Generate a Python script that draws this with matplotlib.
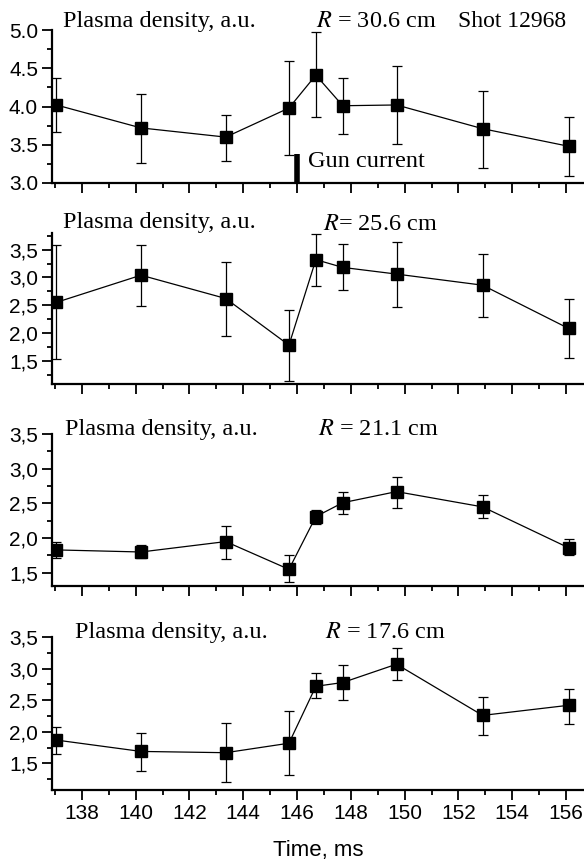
import matplotlib
matplotlib.use('Agg')
import matplotlib.pyplot as plt
from matplotlib.ticker import MultipleLocator, FuncFormatter

plt.rcParams['font.family'] = 'Liberation Sans'
plt.rcParams['mathtext.fontset'] = 'stix'

# time of each measurement, ms
t = [137.05, 140.2, 143.35, 145.7, 146.7, 147.7, 149.7, 152.9, 156.1]

# panel 1, R = 30.6 cm
y1 = [4.02, 3.72, 3.60, 3.98, 4.41, 4.01, 4.02, 3.71, 3.48]
top1 = [4.37, 4.16, 3.89, 4.60, 4.97, 4.37, 4.53, 4.20, 3.86]
bot1 = [3.67, 3.26, 3.29, 3.37, 3.86, 3.64, 3.51, 3.20, 3.09]
# panel 2, R = 25.6 cm
y2 = [2.55, 3.04, 2.62, 1.78, 3.32, 3.18, 3.06, 2.86, 2.08]
top2 = [3.59, 3.59, 3.27, 2.41, 3.78, 3.61, 3.64, 3.43, 2.61]
bot2 = [1.53, 2.49, 1.94, 1.14, 2.85, 2.77, 2.46, 2.28, 1.54]
# panel 3, R = 21.1 cm
y3 = [1.83, 1.80, 1.95, 1.55, 2.31, 2.51, 2.67, 2.45, 1.86]
top3 = [1.95, 1.90, 2.18, 1.76, 2.41, 2.66, 2.88, 2.62, 1.98]
bot3 = [1.71, 1.71, 1.70, 1.37, 2.20, 2.35, 2.44, 2.29, 1.75]
# panel 4, R = 17.6 cm
y4 = [1.87, 1.69, 1.67, 1.82, 2.72, 2.78, 3.07, 2.26, 2.42]
top4 = [2.07, 1.98, 2.14, 2.33, 2.93, 3.06, 3.32, 2.55, 2.68]
bot4 = [1.65, 1.38, 1.21, 1.32, 2.53, 2.50, 2.82, 1.95, 2.13]

r_labels = ['$R$ = 30.6 cm', '$R$= 25.6 cm', '$R$ = 21.1 cm', '$R$ = 17.6 cm']
ylims = [(3.0, 5.0), (1.08, 3.8), (1.31, 3.5), (1.08, 3.5)]
seps = ['.', ',', ',', ',']

# gun current pulse
gun_t = 146.0
gun_top = 3.38

W, H = 584, 865
fig = plt.figure(figsize=(W / 100, H / 100), dpi=100)

# axes boxes in pixels: (top, bottom)
boxes = [(30, 183), (233, 384), (434, 586), (637, 790)]
# text anchors in pixels: (plasma x, plasma y, R x, R y)
txt = [(63, 27, 316, 27), (63, 228, 323, 230), (65, 435, 318, 435), (75, 638, 325, 638)]

data = [(y1, top1, bot1), (y2, top2, bot2), (y3, top3, bot3), (y4, top4, bot4)]

for i in range(4):
    top, bot = boxes[i]
    ax = fig.add_axes([52 / W, 1 - bot / H, (W - 52) / W, (bot - top) / H])
    y, yt, yb = data[i]
    lo = [a - b for a, b in zip(y, yb)]
    hi = [b - a for a, b in zip(y, yt)]
    ax.errorbar(t, y, yerr=[lo, hi], fmt='none', ecolor='black', elinewidth=0.9,
                capsize=3.5, capthick=0.9)
    ax.plot(t, y, color='black', lw=0.9, marker='s', markersize=9,
            markerfacecolor='black', markeredgecolor='black')
    ax.set_xlim(136.89, 156.67)
    ax.set_ylim(*ylims[i])
    ax.xaxis.set_major_locator(MultipleLocator(2))
    ax.xaxis.set_minor_locator(MultipleLocator(1))
    ax.yaxis.set_major_locator(MultipleLocator(0.5))
    ax.yaxis.set_minor_locator(MultipleLocator(0.25))
    sep = seps[i]
    ax.yaxis.set_major_formatter(FuncFormatter(lambda v, p, s=sep: ('%.1f' % v).replace('.', s)))
    for s in ['top', 'right']:
        ax.spines[s].set_visible(False)
    for s in ['left', 'bottom']:
        ax.spines[s].set_linewidth(1.6)
    ax.tick_params(which='major', direction='out', length=7, width=1.3, labelsize=15, pad=3)
    ax.tick_params(which='minor', direction='out', length=3.5, width=1.3)
    ax.tick_params(axis='y', labelsize=15)
    if i < 3:
        ax.tick_params(axis='x', labelbottom=False)
    else:
        ax.set_xlabel('Time, ms', fontsize=16, labelpad=12)
    px, py, rx, ry = txt[i]
    fig.text(px / W, 1 - py / H, 'Plasma density, a.u.', family='Liberation Serif',
             fontsize=17.5, va='baseline')
    fig.text(rx / W, 1 - ry / H, r_labels[i], family='Liberation Serif',
             fontsize=17.5, va='baseline')
    if i == 0:
        fig.text(458 / W, 1 - 27 / H, 'Shot 12968', family='Liberation Serif',
                 fontsize=17, va='baseline')
        ax.vlines(gun_t, ylims[0][0], gun_top, color='black', lw=4, clip_on=False)
        fig.text(308 / W, 1 - 167 / H, 'Gun current', family='Liberation Serif',
                 fontsize=17.5, va='baseline')

fig.savefig('out.png', dpi=100)
